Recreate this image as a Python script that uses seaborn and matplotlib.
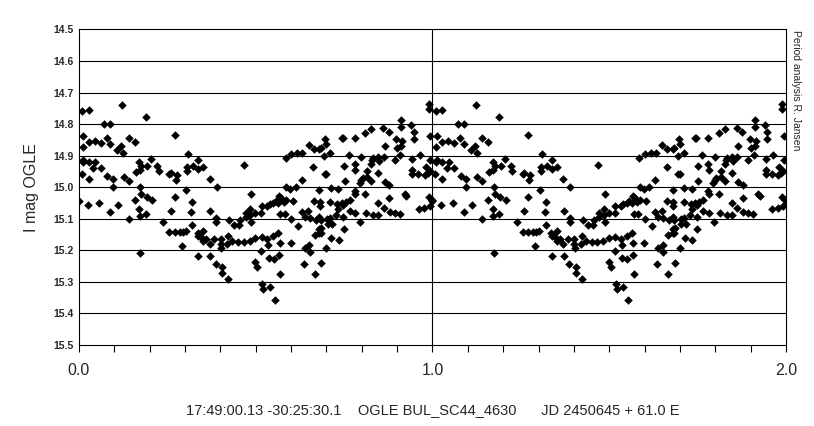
import numpy as np
import pandas as pd
import seaborn as sns
import matplotlib.pyplot as plt

# phase-folded OGLE I-band points (one cycle, plotted twice)
phase = [
    0.010, 0.027, 0.123, 0.189, 0.072, 0.089, 0.012, 0.011, 0.027, 0.044,
    0.061, 0.078, 0.089, 0.109, 0.120, 0.125, 0.141, 0.158, 0.271, 0.309,
    0.012, 0.011, 0.027, 0.046, 0.041, 0.061, 0.008, 0.027, 0.080, 0.095,
    0.096, 0.126, 0.141, 0.160, 0.172, 0.171, 0.176, 0.193, 0.205, 0.222,
    0.225, 0.255, 0.259, 0.276, 0.274, 0.306, 0.306, 0.323, 0.337, 0.338,
    0.174, 0.176, 0.192, 0.208, 0.158, 0.000, 0.025, 0.058, 0.089, 0.111,
    0.141, 0.171, 0.172, 0.189, 0.271, 0.259, 0.303, 0.321, 0.318, 0.239,
    0.255, 0.271, 0.285, 0.293, 0.302, 0.321, 0.336, 0.337, 0.291, 0.173,
    0.338,
    0.650, 0.664, 0.679, 0.601, 0.617, 0.632, 0.585, 0.663, 0.468, 0.352,
    0.370, 0.390, 0.630, 0.587, 0.613, 0.598, 0.488, 0.679, 0.566, 0.572,
    0.587, 0.605, 0.549, 0.556, 0.539, 0.532, 0.517, 0.579, 0.563, 0.372,
    0.485, 0.499, 0.515, 0.472, 0.484, 0.472, 0.456, 0.453, 0.439, 0.425,
    0.488, 0.389, 0.389, 0.570, 0.582, 0.601, 0.630, 0.649, 0.638, 0.653,
    0.670, 0.679, 0.621, 0.679, 0.667, 0.679, 0.351, 0.346, 0.360, 0.351,
    0.370, 0.382, 0.401, 0.401, 0.403, 0.422, 0.434, 0.420, 0.451, 0.466,
    0.483, 0.498, 0.517, 0.533, 0.536, 0.549, 0.564, 0.568, 0.599, 0.639,
    0.651, 0.653, 0.372, 0.387, 0.406, 0.406, 0.422, 0.499, 0.505, 0.516,
    0.537, 0.551, 0.567, 0.636, 0.667, 0.570, 0.519, 0.522, 0.539, 0.554,
    0.990, 0.990, 0.912, 0.912, 0.940, 0.947, 0.860, 0.876, 0.827, 0.810,
    0.780, 0.746, 0.744, 0.697, 0.700, 0.684, 0.694, 0.711, 0.994, 0.898,
    0.915, 0.900, 0.912, 0.865, 0.947, 0.763, 0.799, 0.832, 0.830, 0.827,
    0.846, 0.849, 0.862, 0.893, 0.909, 0.943, 0.964, 0.994, 0.981, 0.751,
    0.780, 0.782, 0.815, 0.695, 0.700, 0.943, 0.943, 0.959, 0.978, 0.987,
    0.992, 0.846, 0.827, 0.803, 0.815, 0.799, 0.794, 0.752, 0.865, 0.877,
    0.712, 0.733, 0.780, 0.782, 0.810, 0.664, 0.681, 0.681, 0.711, 0.730,
    0.744, 0.754, 0.766, 0.747, 0.733, 0.728, 0.747, 0.766, 0.782, 0.813,
    0.832, 0.846, 0.846, 0.862, 0.879, 0.893, 0.907, 0.878, 0.921, 0.926,
    0.961, 0.976, 0.992, 0.990, 0.998, 0.684, 0.702, 0.704, 0.717, 0.711,
    0.686, 0.684, 0.700, 0.714, 0.735, 0.749, 0.796, 0.686,
]
imag = [
    14.760, 14.755, 14.740, 14.777, 14.800, 14.800, 14.837, 14.872, 14.856, 14.853,
    14.859, 14.843, 14.862, 14.881, 14.870, 14.890, 14.843, 14.856, 14.834, 14.894,
    14.914, 14.921, 14.921, 14.919, 14.938, 14.938, 14.959, 14.974, 14.966, 14.974,
    14.998, 14.967, 14.980, 14.951, 14.947, 14.919, 14.932, 14.933, 14.911, 14.932,
    14.948, 14.957, 14.954, 14.961, 14.977, 14.948, 14.936, 14.932, 14.915, 14.942,
    15.000, 15.020, 15.030, 15.040, 15.040, 15.044, 15.056, 15.050, 15.080, 15.055,
    15.100, 15.070, 15.090, 15.084, 15.030, 15.075, 15.010, 15.046, 15.079, 15.110,
    15.141, 15.141, 15.141, 15.143, 15.138, 15.119, 15.146, 15.153, 15.185, 15.207,
    15.217,
    14.865, 14.878, 14.878, 14.895, 14.891, 14.891, 14.907, 14.935, 14.930, 14.936,
    14.973, 15.000, 14.977, 14.999, 14.999, 15.007, 15.020, 15.009, 15.027, 15.033,
    15.041, 15.044, 15.049, 15.043, 15.054, 15.059, 15.059, 15.046, 15.049, 15.075,
    15.069, 15.083, 15.081, 15.083, 15.088, 15.094, 15.104, 15.120, 15.120, 15.104,
    15.109, 15.097, 15.109, 15.086, 15.086, 15.102, 15.079, 15.075, 15.094, 15.096,
    15.104, 15.094, 15.122, 15.133, 15.152, 15.146, 15.140, 15.157, 15.164, 15.170,
    15.181, 15.163, 15.163, 15.181, 15.194, 15.154, 15.171, 15.181, 15.172, 15.172,
    15.169, 15.162, 15.159, 15.163, 15.182, 15.155, 15.146, 15.178, 15.176, 15.191,
    15.184, 15.206, 15.217, 15.244, 15.253, 15.271, 15.290, 15.238, 15.252, 15.201,
    15.223, 15.227, 15.214, 15.242, 15.274, 15.274, 15.308, 15.322, 15.315, 15.356,
    14.737, 14.753, 14.787, 14.810, 14.803, 14.824, 14.812, 14.824, 14.815, 14.827,
    14.843, 14.843, 14.843, 14.848, 14.863, 14.877, 14.901, 14.893, 14.837, 14.848,
    14.853, 14.875, 14.870, 14.870, 14.848, 14.897, 14.905, 14.907, 14.914, 14.925,
    14.903, 14.916, 14.903, 14.913, 14.898, 14.909, 14.898, 14.914, 14.935, 14.932,
    14.927, 14.944, 14.950, 14.959, 14.957, 14.946, 14.957, 14.957, 14.961, 14.954,
    14.948, 14.954, 14.980, 14.970, 14.967, 14.977, 14.988, 14.979, 14.983, 14.993,
    15.004, 15.007, 15.011, 15.020, 15.022, 15.043, 15.046, 15.060, 15.046, 15.053,
    15.051, 15.046, 15.041, 15.056, 15.070, 15.088, 15.093, 15.074, 15.081, 15.083,
    15.087, 15.087, 15.049, 15.067, 15.078, 15.081, 15.084, 15.033, 15.020, 15.029,
    15.070, 15.067, 15.059, 15.030, 15.039, 15.104, 15.101, 15.115, 15.117, 15.096,
    15.130, 15.146, 15.192, 15.160, 15.167, 15.133, 15.109, 15.241,
]

xlabel = "17:49:00.13 -30:25:30.1    OGLE BUL_SC44_4630      JD 2450645 + 61.0 E"
ylabel = "I mag OGLE"
credit = "Period analysis R. Jansen"

one = pd.DataFrame({"phase": phase, "imag": imag})
two = one.copy()
two["phase"] = two["phase"] + 1.0
df = pd.concat([one, two], ignore_index=True)

sns.set_style("white")
plt.rcParams['font.family'] = ['Liberation Sans', 'DejaVu Sans']

fig = plt.figure(figsize=(8.14, 4.26), dpi=100)
ax = fig.add_axes([0.097, 0.190, 0.8686, 0.741])

sns.scatterplot(data=df, x="phase", y="imag", marker="D", s=19,
                color="black", edgecolor="black", linewidth=0, ax=ax, zorder=3)

ax.set_xlim(0, 2)
ax.set_ylim(15.5, 14.5)
ax.set_yticks(np.arange(14.5, 15.51, 0.1))
ax.set_yticklabels(["%.1f" % v for v in np.arange(14.5, 15.51, 0.1)],
                   fontsize=7.5, fontweight="bold")
ax.set_xticks([0, 1, 2])
ax.set_xticklabels(["0.0", "1.0", "2.0"], fontsize=11.5)
ax.set_xticks(np.arange(0, 2.01, 0.1), minor=True)
ax.tick_params(axis="x", which="both", direction="out", length=5, width=0.8,
               color="black", bottom=True, pad=8)
ax.tick_params(axis="y", length=0, pad=4)

for v in np.arange(14.6, 15.45, 0.1):
    ax.axhline(v, color="black", lw=0.8, zorder=1)
ax.axvline(1.0, color="black", lw=0.8, zorder=1)

for sp in ax.spines.values():
    sp.set_color("black")
    sp.set_linewidth(0.8)

ax.set_xlabel(xlabel, fontsize=10.5, labelpad=18)
ax.set_ylabel(ylabel, fontsize=11.5, labelpad=10)

fig.text(0.972, 0.93, credit, rotation=-90, fontsize=7.5, ha="left", va="top")

fig.savefig("out.png", dpi=100)
